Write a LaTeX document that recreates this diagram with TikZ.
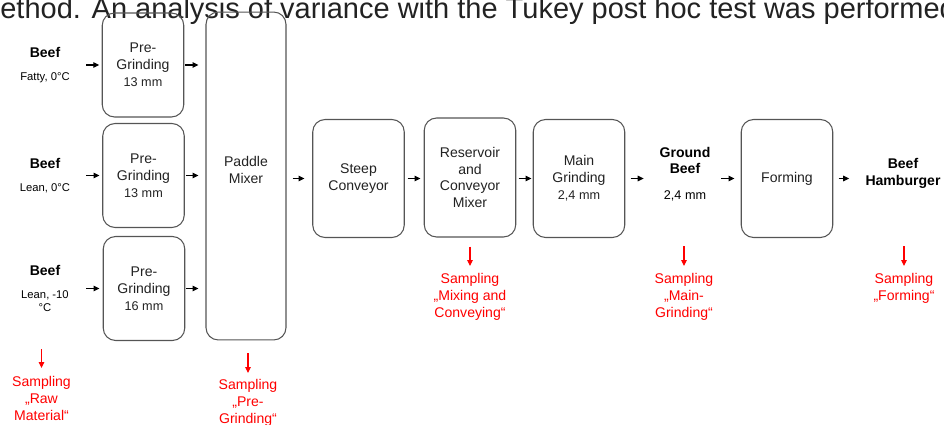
\documentclass[tikz,border=0pt]{standalone}
\usepackage{fontspec}
\setmainfont{Liberation Sans}
\usetikzlibrary{arrows.meta}
\definecolor{boxline}{HTML}{555555}
\definecolor{txt}{HTML}{222222}
\definecolor{sampred}{HTML}{FF0000}
\newcommand{\detail}[1]{{\fontsize{7.2}{8.6}\selectfont #1}}
\newcommand{\note}[1]{{\fontsize{6.4}{7.7}\selectfont #1}}

\begin{document}
\begin{tikzpicture}[x=0.02cm,y=-0.02cm]
\tikzset{box/.style = {draw=boxline,line width=0.6pt,rounded corners=7pt,align=center,text=txt,font=\fontsize{8}{9.6}\selectfont,minimum width=1.63cm,minimum height=2.08cm}}
\tikzset{bigbox/.style = {box,minimum width=1.83cm,minimum height=2.36cm}}
\tikzset{lbl/.style = {align=center,text=black,font=\fontsize{8}{9.6}\selectfont,minimum width=1.4cm,minimum height=2.36cm,inner sep=0pt}}
\tikzset{sampling/.style = {align=center,text=sampred,font=\fontsize{8}{9.6}\selectfont,inner sep=0pt,anchor=north}}
\tikzset{flow/.style = {-{Triangle[length=3.4pt,width=3.2pt]},line width=0.6pt}}
\tikzset{sample/.style = {flow,draw=sampred}}
\useasboundingbox (0,0) rectangle (944,425);
\clip (0,0) rectangle (944,425);
% cut-off line of the page text
\node[anchor=base west,inner sep=0pt,text=txt,font=\fontsize{16.5}{19}\selectfont] (cap) at (0,18.5) {ethod. An analysis of variance with the Tukey post hoc test was performed};
% raw material
\node[lbl,minimum width=1.64cm,minimum height=2.08cm] (b1) at (45,65) {\textbf{Beef}\\[3.4pt]\note{Fatty, 0°C}};
\node[lbl,minimum width=1.64cm,minimum height=2.08cm] (b2) at (45,175.5) {\textbf{Beef}\\[3.4pt]\note{Lean, 0°C}};
\node[lbl,minimum width=1.64cm,minimum height=2.08cm] (b3) at (45,288.5) {\textbf{Beef}\\[3.4pt]\note{Lean, -10}\\[-1.9pt]\note{°C}};
\node[box] (p1) at (143,65) {Pre-\\Grinding\\\detail{13 mm}};
\node[box] (p2) at (143.5,175.5) {Pre-\\Grinding\\\detail{13 mm}};
\node[box] (p3) at (144,288.5) {Pre-\\Grinding\\\detail{16 mm}};
\node[box,minimum width=1.6cm,minimum height=6.56cm] (mix) at (246,176) {Paddle\\Mixer\\[-3pt]\mbox{}};
\node[bigbox] (stp) at (358.5,178.5) {Steep\\Conveyor};
\node[bigbox,minimum height=2.38cm] (res) at (470,177.5) {Reservoir\\and\\Conveyor\\Mixer};
\node[bigbox] (mg) at (579,178.5) {Main\\Grinding\\\detail{2,4 mm}};
\node[lbl] (gb) at (685,174) {\textbf{Ground}\\\textbf{Beef}\\[5pt]\detail{2,4 mm}};
\node[bigbox] (frm) at (787,178.5) {Forming};
\node[lbl] (ham) at (903,173.5) {\textbf{Beef}\\\textbf{Hamburger}};
% sampling points
\node[sampling] (s1) at (41.5,376) {Sampling\\„Raw\\Material“};
\node[sampling] (s2) at (248,379) {Sampling\\„Pre-\\Grinding“};
\node[sampling] (s3) at (470,273) {Sampling\\„Mixing and\\Conveying“};
\node[sampling] (s4) at (684,273) {Sampling\\„Main-\\Grinding“};
\node[sampling] (s5) at (904,273) {Sampling\\„Forming“};
\draw[flow,shorten >=0.05cm] (b1) -- (p1);
\draw[flow,shorten >=0.055cm] (b2) -- (p2);
\draw[flow,shorten >=0.065cm] (b3) -- (p3);
\draw[flow,shorten <=0.02cm,shorten >=0.14cm] (p1.east) -- (p1.east -| mix.west);
\draw[flow,shorten <=0.02cm,shorten >=0.14cm] (p2.east) -- (p2.east -| mix.west);
\draw[flow,shorten <=0.01cm,shorten >=0.14cm] (p3.east) -- (p3.east -| mix.west);
\draw[flow,shorten <=0.12cm,shorten >=0.155cm] (mix.east |- stp.west) -- (stp.west);
\draw[flow,shorten <=0.055cm,shorten >=0.065cm] (stp.east) -- (stp.east -| res.west);
\draw[flow,shorten <=0.045cm,shorten >=0.025cm] (res.east |- mg.west) -- (mg.west);
\draw[flow,shorten <=0.105cm,shorten >=0.12cm] (mg.east) -- (mg.east -| gb.west);
\draw[flow,shorten <=0.02cm,shorten >=0.125cm] (gb.east |- frm.west) -- (frm.west);
\draw[flow,shorten <=0.105cm,shorten >=0.32cm] (frm.east) -- (frm.east -| ham.west);
\draw[sample,shorten <=0.17cm,shorten >=0.16cm] (s1.north |- b3.south) -- (s1.north);
\draw[sample,shorten <=0.26cm,shorten >=0.12cm] (s2.north |- mix.south) -- (s2.north);
\draw[sample,shorten <=0.18cm,shorten >=0.14cm] (s3.north |- res.south) -- (s3.north);
\draw[sample,shorten <=0.26cm,shorten >=0.14cm] (s4.north |- gb.south) -- (s4.north);
\draw[sample,shorten <=0.27cm,shorten >=0.14cm] (s5.north |- ham.south) -- (s5.north);
\end{tikzpicture}
\end{document}
